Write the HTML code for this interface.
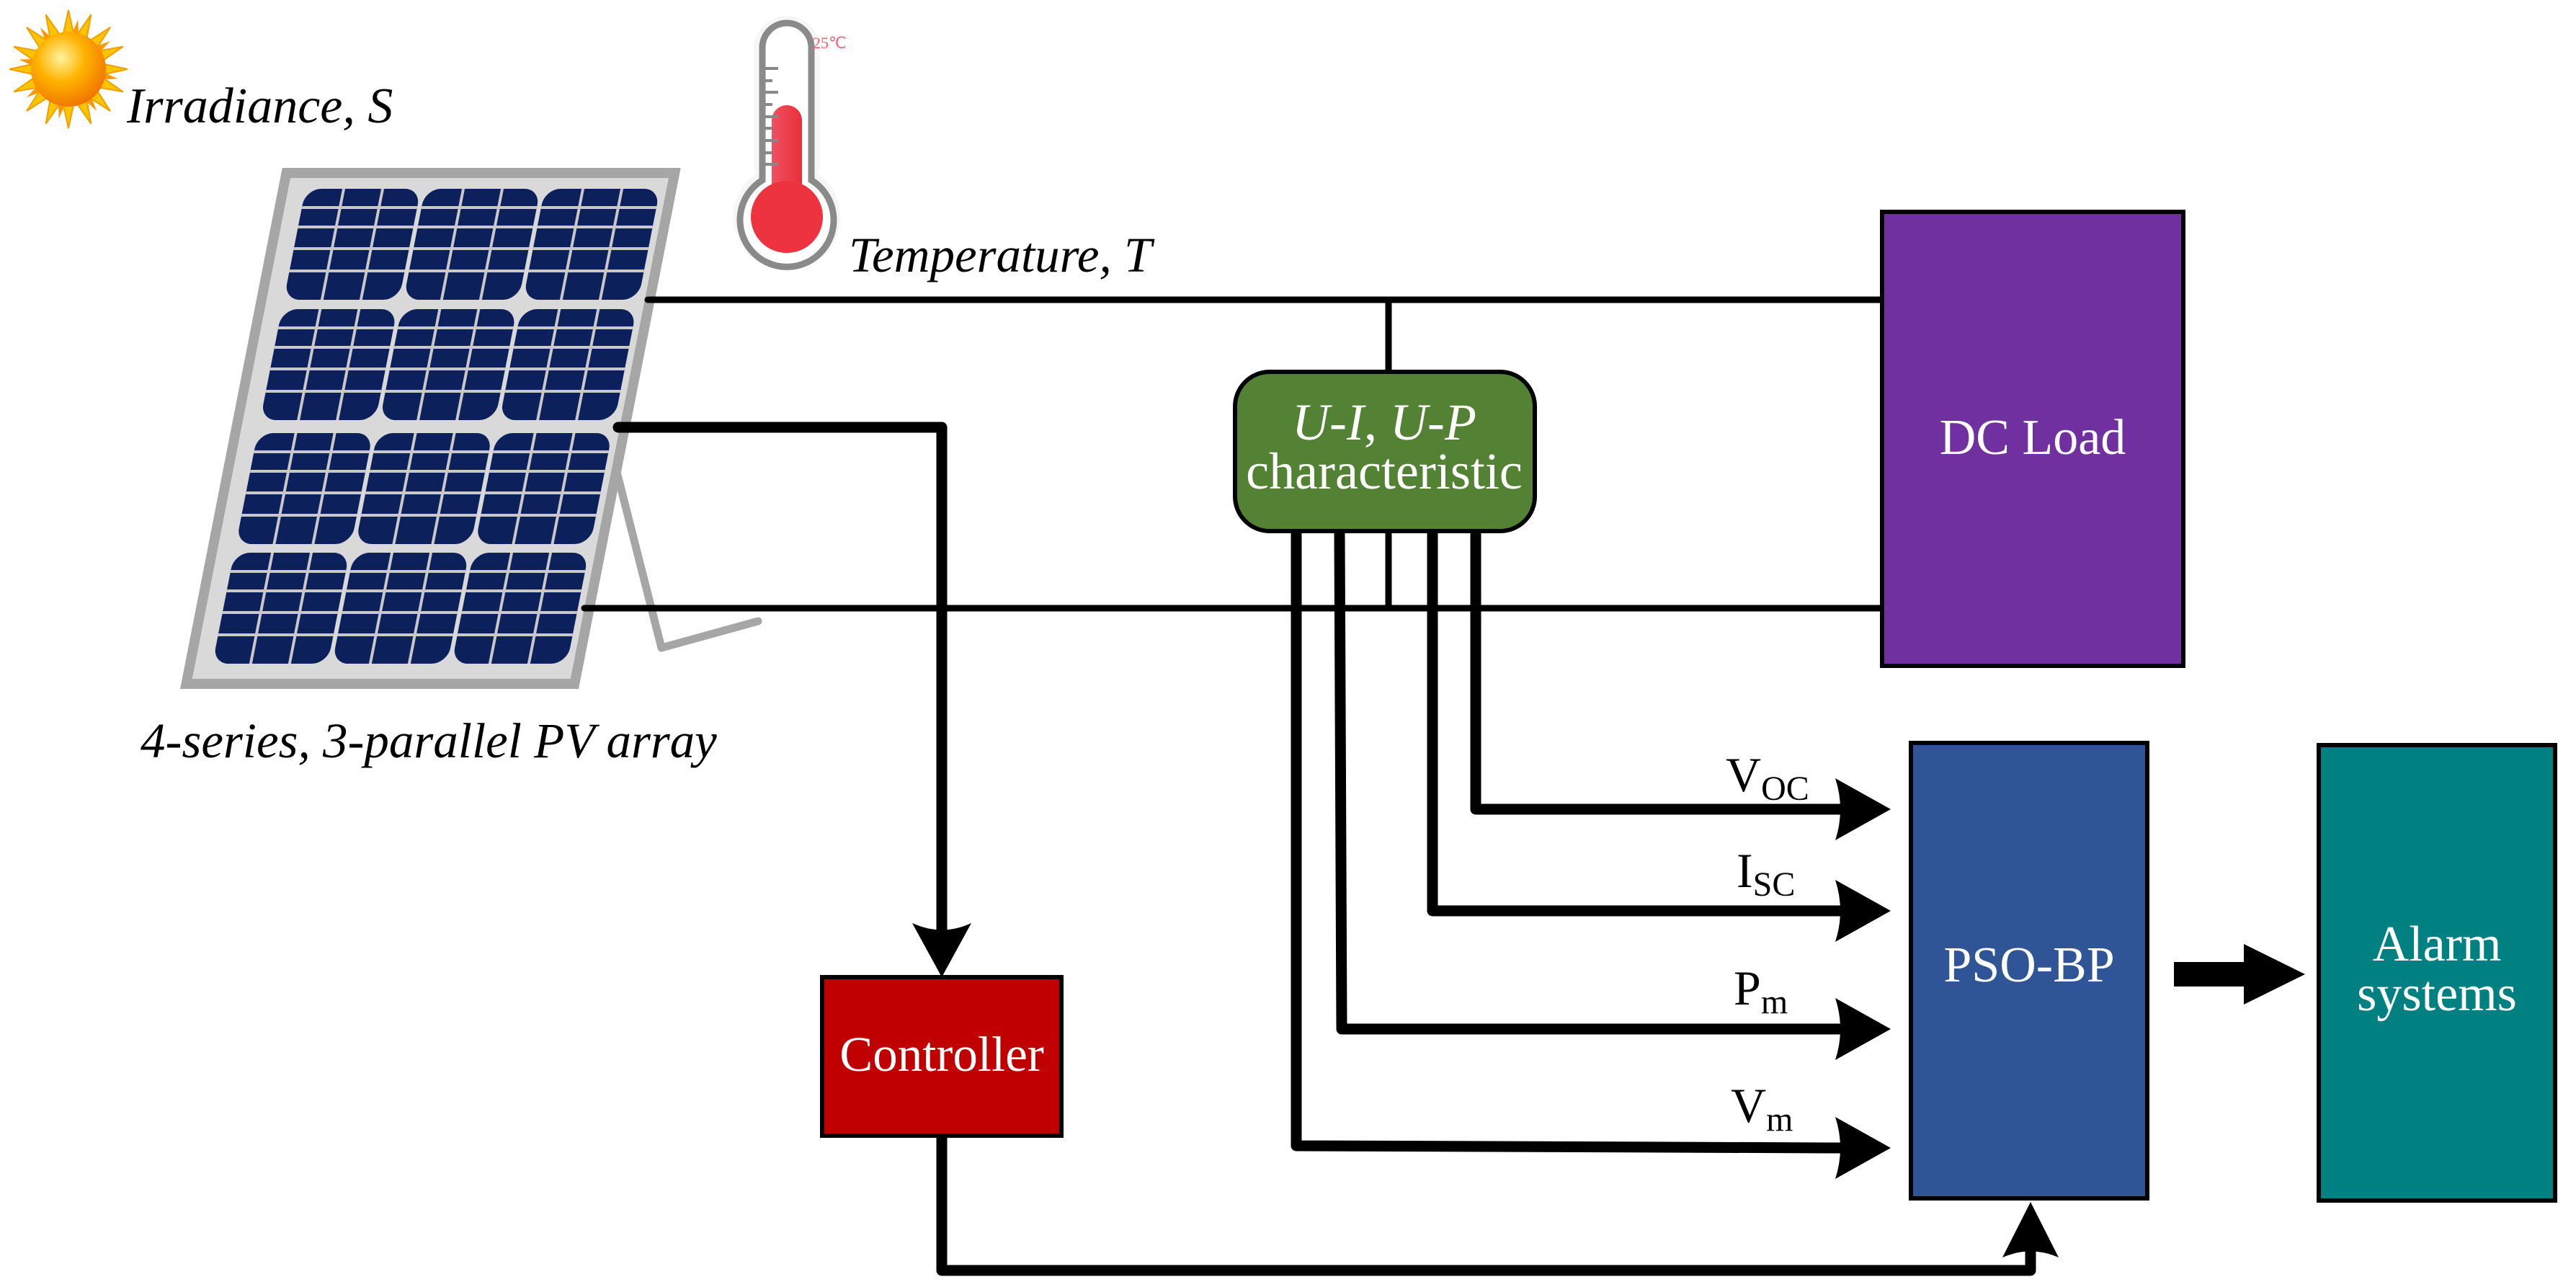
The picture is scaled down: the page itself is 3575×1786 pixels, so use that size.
<!DOCTYPE html>
<html><head><meta charset="utf-8"><style>
html,body{margin:0;padding:0;background:#fff;}
svg{display:block;}
text{font-family:"Liberation Serif","Times New Roman",serif;}
</style></head><body>
<svg width="3575" height="1786" viewBox="0 0 3575 1786" xmlns="http://www.w3.org/2000/svg">
<defs>
<radialGradient id="sun" cx="0.4" cy="0.35" r="0.7">
<stop offset="0" stop-color="#fff3a0"/><stop offset="0.45" stop-color="#ffb300"/><stop offset="1" stop-color="#f07000"/>
</radialGradient>
<linearGradient id="red" x1="0" x2="1"><stop offset="0" stop-color="#f05060"/><stop offset="1" stop-color="#e8303c"/></linearGradient>
</defs>

<!-- Sun -->
<g transform="translate(95,96)">
<g fill="#ffc400" stroke="#f0a000" stroke-width="2">
<polygon points="0,-82 7,-50 -7,-50"/>
<polygon points="0,-82 7,-50 -7,-50" transform="rotate(22.5)"/>
<polygon points="0,-82 7,-50 -7,-50" transform="rotate(45)"/>
<polygon points="0,-82 7,-50 -7,-50" transform="rotate(67.5)"/>
<polygon points="0,-82 7,-50 -7,-50" transform="rotate(90)"/>
<polygon points="0,-82 7,-50 -7,-50" transform="rotate(112.5)"/>
<polygon points="0,-82 7,-50 -7,-50" transform="rotate(135)"/>
<polygon points="0,-82 7,-50 -7,-50" transform="rotate(157.5)"/>
<polygon points="0,-82 7,-50 -7,-50" transform="rotate(180)"/>
<polygon points="0,-82 7,-50 -7,-50" transform="rotate(202.5)"/>
<polygon points="0,-82 7,-50 -7,-50" transform="rotate(225)"/>
<polygon points="0,-82 7,-50 -7,-50" transform="rotate(247.5)"/>
<polygon points="0,-82 7,-50 -7,-50" transform="rotate(270)"/>
<polygon points="0,-82 7,-50 -7,-50" transform="rotate(292.5)"/>
<polygon points="0,-82 7,-50 -7,-50" transform="rotate(315)"/>
<polygon points="0,-82 7,-50 -7,-50" transform="rotate(337.5)"/>
</g>
<g fill="#ff9800">
<polygon points="0,-70 5,-48 -5,-48" transform="rotate(11)"/>
<polygon points="0,-70 5,-48 -5,-48" transform="rotate(56)"/>
<polygon points="0,-70 5,-48 -5,-48" transform="rotate(101)"/>
<polygon points="0,-70 5,-48 -5,-48" transform="rotate(146)"/>
<polygon points="0,-70 5,-48 -5,-48" transform="rotate(191)"/>
<polygon points="0,-70 5,-48 -5,-48" transform="rotate(236)"/>
<polygon points="0,-70 5,-48 -5,-48" transform="rotate(281)"/>
<polygon points="0,-70 5,-48 -5,-48" transform="rotate(326)"/>
</g>
<circle r="52" fill="url(#sun)"/>
</g>
<text x="176" y="170" font-size="70" font-style="italic">Irradiance, S</text>

<!-- Thermometer -->
<g>
<rect x="1046" y="22" width="92" height="250" rx="46" fill="#f6f6f6"/>
<circle cx="1092" cy="301" r="74" fill="#f6f6f6"/>
<path d="M1058,250 L1058,66 A34,34 0 0 1 1126,66 L1126,250 A65,65 0 1 1 1058,250 Z" fill="#fff" stroke="#8a8a8a" stroke-width="9"/>
<rect x="1071" y="146" width="42" height="140" rx="21" fill="url(#red)"/>
<circle cx="1092" cy="301" r="50" fill="#ee3340"/>
<g stroke="#888" stroke-width="4">
<line x1="1062" y1="95" x2="1080" y2="95"/><line x1="1062" y1="112" x2="1072" y2="112"/>
<line x1="1062" y1="128" x2="1080" y2="128"/><line x1="1062" y1="145" x2="1072" y2="145"/>
<line x1="1062" y1="162" x2="1080" y2="162"/><line x1="1062" y1="178" x2="1072" y2="178"/>
<line x1="1062" y1="195" x2="1080" y2="195"/><line x1="1062" y1="212" x2="1072" y2="212"/>
<line x1="1062" y1="228" x2="1080" y2="228"/>
</g>
<text x="1128" y="67" font-size="22" fill="#f06070" font-family="Liberation Sans, sans-serif">25℃</text>
</g>
<text x="1178" y="377" font-size="69" font-style="italic">Temperature, T</text>

<!-- Stand -->
<polyline points="857,659 918,899 1052,862" fill="none" stroke="#a6a6a6" stroke-width="11" stroke-linejoin="round" stroke-linecap="round"/>

<!-- PV panel (skewed) -->
<g transform="matrix(1 0 -0.196 1 187.4 0)">
<rect x="250" y="233" width="553" height="723" fill="#a6a6a6"/>
<rect x="264" y="247" width="525" height="695" fill="#d9d9d9"/>
<g id="row">
<g id="grp">
<rect x="288" y="262" width="160" height="154" rx="22" fill="#0c205c"/>
<g stroke="#c8c8c8" stroke-width="4">
<line x1="341" y1="262" x2="341" y2="416"/><line x1="395" y1="262" x2="395" y2="416"/>
<line x1="288" y1="288" x2="448" y2="288"/><line x1="288" y1="315" x2="448" y2="315"/>
<line x1="288" y1="345" x2="448" y2="345"/><line x1="288" y1="376" x2="448" y2="376"/>
</g>
</g>
<use href="#grp" x="166"/>
<use href="#grp" x="332"/>
</g>
<use href="#row" y="167"/>
<use href="#row" y="339"/>
<use href="#row" y="505"/>
</g>
<text x="195" y="1051" font-size="69" font-style="italic">4-series, 3-parallel PV array</text>

<!-- Wires -->
<g stroke="#000" fill="none" stroke-linejoin="round" stroke-linecap="round">
<line x1="899" y1="416" x2="2610" y2="416" stroke-width="9"/>
<line x1="1927" y1="416" x2="1927" y2="516" stroke-width="9"/>
<line x1="811" y1="844" x2="2610" y2="844" stroke-width="9"/>
<line x1="1927" y1="741" x2="1927" y2="844" stroke-width="9"/>
<polyline points="858,593 1307,593 1307,1290" stroke-width="15"/>
<polyline points="1307,1578 1307,1763 2818,1763 2818,1700" stroke-width="15"/>
<polyline points="2048,741 2048,1123 2555,1123" stroke-width="15"/>
<polyline points="1988,741 1988,1264 2555,1264" stroke-width="15"/>
<polyline points="1859,741 1862,1428 2555,1428" stroke-width="15"/>
<polyline points="1799,741 1799,1590 2555,1593" stroke-width="15"/>
</g>
<!-- Arrowheads -->
<g fill="#000">
<path d="M2624,1123 L2547,1080 Q2561,1123 2547,1166 Z"/>
<path d="M2624,1264 L2547,1221 Q2561,1264 2547,1307 Z"/>
<path d="M2624,1428 L2547,1385 Q2561,1428 2547,1471 Z"/>
<path d="M2624,1593 L2547,1550 Q2561,1593 2547,1636 Z"/>
<path d="M1307,1356 L1266,1281 Q1307,1300 1348,1281 Z"/>
<path d="M2818,1668 L2779,1745 Q2818,1728 2857,1745 Z"/>
<polygon points="3017,1335 3114,1335 3114,1310 3199,1352 3114,1394 3114,1369 3017,1369"/>
</g>

<!-- Labels -->
<text x="2395" y="1098" font-size="68">V<tspan font-size="48" dy="12">OC</tspan></text>
<text x="2410" y="1231" font-size="68">I<tspan font-size="48" dy="12">SC</tspan></text>
<text x="2406" y="1394" font-size="68">P<tspan font-size="48" dy="12">m</tspan></text>
<text x="2402" y="1557" font-size="68">V<tspan font-size="48" dy="12">m</tspan></text>

<!-- Boxes -->
<rect x="1714" y="516" width="416" height="221" rx="48" fill="#548235" stroke="#000" stroke-width="6"/>
<text x="1921" y="610" font-size="72" fill="#fff" text-anchor="middle" font-style="italic">U-I<tspan font-style="normal">, </tspan>U-P</text>
<text x="1921" y="678" font-size="72" fill="#fff" text-anchor="middle">characteristic</text>

<rect x="2612" y="294" width="418" height="630" fill="#7030a0" stroke="#000" stroke-width="6"/>
<text x="2821" y="630" font-size="70" fill="#fff" text-anchor="middle">DC Load</text>

<rect x="2652" y="1031" width="328" height="632" fill="#2f5597" stroke="#000" stroke-width="6"/>
<text x="2816" y="1362" font-size="70" fill="#fff" text-anchor="middle">PSO-BP</text>

<rect x="3218" y="1034" width="328" height="632" fill="#008080" stroke="#000" stroke-width="6"/>
<text x="3382" y="1333" font-size="70" fill="#fff" text-anchor="middle">Alarm</text>
<text x="3382" y="1402" font-size="70" fill="#fff" text-anchor="middle">systems</text>

<rect x="1141" y="1356" width="332" height="220" fill="#c00000" stroke="#000" stroke-width="6"/>
<text x="1307" y="1486" font-size="69" fill="#fff" text-anchor="middle">Controller</text>
</svg>
</body></html>
